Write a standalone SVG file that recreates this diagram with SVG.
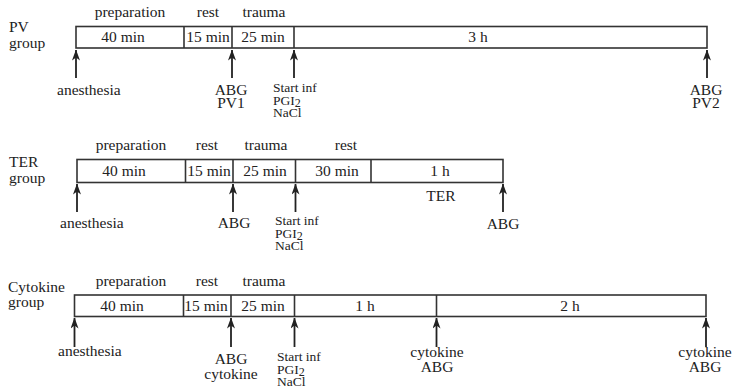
<svg xmlns="http://www.w3.org/2000/svg" width="734" height="389" viewBox="0 0 734 389">
<style>
text{font-family:"Liberation Serif","Times New Roman",serif;font-size:15.5px;fill:#222}
.s{font-size:13.5px}
.sub{font-size:12px}
.m{text-anchor:middle}
.box{fill:#fff;stroke:#333;stroke-width:1.6}
.div{stroke:#333;stroke-width:1.6}
.arr{stroke:#222;stroke-width:1.8;fill:none;marker-end:url(#ah)}
</style>
<defs>
<marker id="ah" markerUnits="userSpaceOnUse" markerWidth="11" markerHeight="8" refX="10.5" refY="4" orient="auto" viewBox="0 0 11 8">
<path d="M0,0 L11,4 L0,8 L3,4 Z" fill="#222"/>
</marker>
</defs>
<rect width="734" height="389" fill="#fff"/>

<!-- PV group -->
<g id="pv-row">
<text x="9" y="32">PV</text>
<text x="9" y="48">group</text>
<text class="m" x="130" y="17">preparation</text>
<text class="m" x="208" y="17">rest</text>
<text class="m" x="264" y="17">trauma</text>
<rect class="box" x="76" y="26.5" width="631" height="21.5"/>
<line class="div" x1="184" y1="26.5" x2="184" y2="48"/>
<line class="div" x1="232" y1="26.5" x2="232" y2="48"/>
<line class="div" x1="294" y1="26.5" x2="294" y2="48"/>
<text class="m" x="123" y="42">40 min</text>
<text class="m" x="208" y="42">15 min</text>
<text class="m" x="263" y="42">25 min</text>
<text class="m" x="478" y="42">3 h</text>
</g>
<g id="pv-events">
<text x="57" y="95">anesthesia</text>
<text class="m" x="231" y="95">ABG</text>
<text class="m" x="231" y="108">PV1</text>
<text class="s" x="273" y="92">Start inf</text>
<text class="s" x="273" y="104.5">PGI<tspan class="sub" dy="2">2</tspan></text>
<text class="s" x="273" y="117">NaCl</text>
<text class="m" x="706" y="95">ABG</text>
<text class="m" x="706" y="108">PV2</text>
</g>

<!-- TER group -->
<g id="ter-row">
<text x="9" y="167">TER</text>
<text x="9" y="183">group</text>
<text class="m" x="131" y="150">preparation</text>
<text class="m" x="207" y="150">rest</text>
<text class="m" x="266" y="150">trauma</text>
<text class="m" x="346" y="150">rest</text>
<rect class="box" x="77" y="159.5" width="426" height="23"/>
<line class="div" x1="185.5" y1="159.5" x2="185.5" y2="182.5"/>
<line class="div" x1="233" y1="159.5" x2="233" y2="182.5"/>
<line class="div" x1="295.5" y1="159.5" x2="295.5" y2="182.5"/>
<line class="div" x1="371" y1="159.5" x2="371" y2="182.5"/>
<text class="m" x="124" y="176">40 min</text>
<text class="m" x="209" y="176">15 min</text>
<text class="m" x="265" y="176">25 min</text>
<text class="m" x="337" y="176">30 min</text>
<text class="m" x="440" y="176">1 h</text>
<text class="m" x="441" y="201">TER</text>
</g>
<g id="ter-events">
<text x="60" y="228">anesthesia</text>
<text class="m" x="234" y="228">ABG</text>
<text class="s" x="275" y="225">Start inf</text>
<text class="s" x="275" y="237.5">PGI<tspan class="sub" dy="2">2</tspan></text>
<text class="s" x="275" y="250">NaCl</text>
<text class="m" x="503" y="229">ABG</text>
</g>

<!-- Cytokine group -->
<g id="cyt-row">
<text x="8" y="292">Cytokine</text>
<text x="8" y="307">group</text>
<text class="m" x="131" y="286">preparation</text>
<text class="m" x="207" y="286">rest</text>
<text class="m" x="264" y="286">trauma</text>
<rect class="box" x="74.5" y="295" width="631.5" height="21.5"/>
<line class="div" x1="183.5" y1="295" x2="183.5" y2="316.5"/>
<line class="div" x1="231" y1="295" x2="231" y2="316.5"/>
<line class="div" x1="294.5" y1="295" x2="294.5" y2="316.5"/>
<line class="div" x1="436.5" y1="295" x2="436.5" y2="316.5"/>
<text class="m" x="122" y="311">40 min</text>
<text class="m" x="206" y="311">15 min</text>
<text class="m" x="263" y="311">25 min</text>
<text class="m" x="365" y="311">1 h</text>
<text class="m" x="570" y="311">2 h</text>
</g>
<g id="cyt-events">
<text x="58" y="356">anesthesia</text>
<text class="m" x="231" y="364">ABG</text>
<text class="m" x="231" y="379">cytokine</text>
<text class="s" x="277" y="361">Start inf</text>
<text class="s" x="277" y="373.5">PGI<tspan class="sub" dy="2">2</tspan></text>
<text class="s" x="277" y="386">NaCl</text>
<text class="m" x="437" y="357">cytokine</text>
<text class="m" x="437" y="372">ABG</text>
<text class="m" x="705" y="357">cytokine</text>
<text class="m" x="705" y="372">ABG</text>
</g>

<g id="connectors">
<line class="arr" x1="76" y1="78" x2="76" y2="50"/>
<line class="arr" x1="232" y1="78" x2="232" y2="50"/>
<line class="arr" x1="294" y1="78" x2="294" y2="50"/>
<line class="arr" x1="707" y1="78" x2="707" y2="50"/>
<line class="arr" x1="77" y1="212" x2="77" y2="184"/>
<line class="arr" x1="233" y1="212" x2="233" y2="184"/>
<line class="arr" x1="295.5" y1="212" x2="295.5" y2="184"/>
<line class="arr" x1="503" y1="212" x2="503" y2="184"/>
<line class="arr" x1="74.5" y1="347" x2="74.5" y2="318"/>
<line class="arr" x1="231" y1="347" x2="231" y2="318"/>
<line class="arr" x1="294.5" y1="347" x2="294.5" y2="318"/>
<line class="arr" x1="436.5" y1="347" x2="436.5" y2="318"/>
<line class="arr" x1="706" y1="347" x2="706" y2="318"/>
</g>
</svg>
